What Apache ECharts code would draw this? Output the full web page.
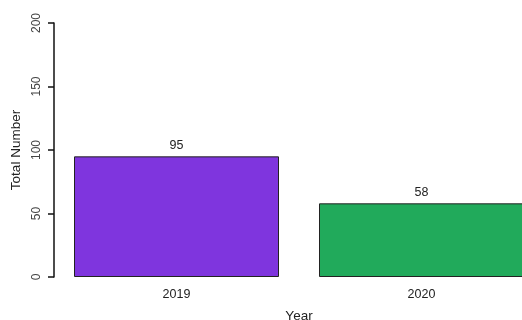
<!DOCTYPE html>
<html><head><meta charset="utf-8">
<script src="https://cdn.jsdelivr.net/npm/echarts@6/dist/echarts.min.js"></script>
<style>html,body{margin:0;padding:0;background:#fff;overflow:hidden}#c{width:522px;height:320px}</style>
</head><body><div id="c"></div>
<script>
const categories = ['2019', '2020'];
const values = [95, 58];
const barColors = ['#7f35de', '#21aa5b'];
const yTicks = [0, 50, 100, 150, 200];

const chart = echarts.init(document.getElementById('c'), null, {renderer: 'canvas'});
const font = 'Liberation Sans, Arial, sans-serif';
chart.setOption({
  animation: false,
  backgroundColor: '#fff',
  grid: {left: 54, width: 490, top: 23, height: 254, containLabel: false, outerBoundsMode: 'none'},
  xAxis: {
    type: 'category',
    data: categories,
    name: 'Year',
    nameLocation: 'middle',
    nameGap: 32,
    nameTextStyle: {fontFamily: font, fontSize: 13.5, color: '#222'},
    axisLine: {show: false},
    axisTick: {show: false},
    axisLabel: {fontFamily: font, fontSize: 12.5, color: '#222', margin: 11}
  },
  yAxis: {
    type: 'value',
    min: yTicks[0],
    max: yTicks[yTicks.length - 1],
    interval: 50,
    name: 'Total Number',
    nameLocation: 'middle',
    nameGap: 30,
    nameTextStyle: {fontFamily: font, fontSize: 13.5, color: '#222'},
    axisLine: {show: true, lineStyle: {color: '#111', width: 1.5}},
    axisTick: {show: true, length: 6, lineStyle: {color: '#111', width: 1.5}},
    axisLabel: {fontFamily: font, fontSize: 12, color: '#444', rotate: 90, margin: 11},
    splitLine: {show: false}
  },
  series: [{
    type: 'bar',
    barWidth: 205,
    data: values.map((v, i) => ({value: v, itemStyle: {color: barColors[i]}})),
    itemStyle: {borderColor: '#222', borderWidth: 1},
    label: {show: true, position: 'top', distance: 4, fontFamily: font, fontSize: 12.5, color: '#222'}
  }]
});
</script></body></html>
